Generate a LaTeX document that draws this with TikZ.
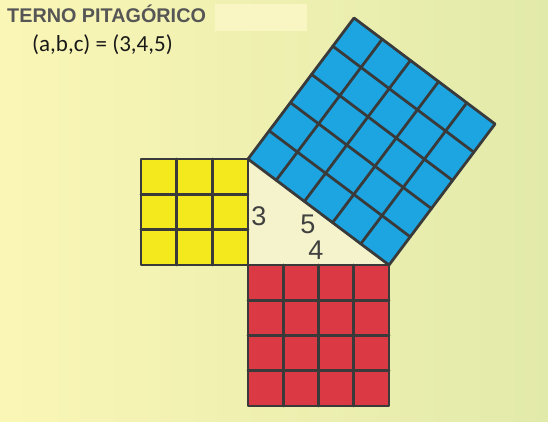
\documentclass[tikz,border=0pt]{standalone}
\usepackage{fontspec}
\setmainfont{Liberation Sans}
\newfontfamily\calibrifont{Carlito}
\usetikzlibrary{calc}
\definecolor{bgleft}{HTML}{FAF6B6}
\definecolor{bgmid}{HTML}{F1F1B0}
\definecolor{bgright}{HTML}{E2EAAA}
\definecolor{highlight}{HTML}{FAF6C4}
\definecolor{trifill}{HTML}{F5F3CC}
\definecolor{sqyellow}{HTML}{F4E91C}
\definecolor{sqred}{HTML}{DB3A44}
\definecolor{sqblue}{HTML}{1CA5E1}
\definecolor{gridgray}{HTML}{3A3A3A}
\definecolor{titlegray}{HTML}{565656}
\definecolor{labelgray}{HTML}{404040}

\begin{document}
\begin{tikzpicture}[x=1pt,y=-1pt,
    cellline/.style={draw=gridgray,line width=2.8pt,line cap=round,line join=round},
    sidelabel/.style={text=labelgray,inner sep=0pt,font=\fontsize{27}{27}\selectfont}]
      \useasboundingbox (0,0) rectangle (548,422);
      \shade[left color=bgleft,middle color=bgmid,right color=bgright] (0,0) rectangle (548,422);
      \fill[highlight] (215,4) rectangle (307,31);

      \node[anchor=base west,inner sep=0pt,text=titlegray,font=\fontsize{19.8}{20}\selectfont\bfseries] (title) at (7,23) {TERNO PITAGÓRICO};
      \node[anchor=base west,inner sep=0pt,text=black!90,font=\calibrifont\fontsize{23}{24}\selectfont] (triple) at (32,52) {(a,b,c) = (3,4,5)};

      % triangle corners and square corners
      \coordinate (P) at (248,159);
      \coordinate (Q) at (248,265);
      \coordinate (R) at (389,265);
      \coordinate (S) at (495,124);
      \coordinate (T) at (354,18);
      \coordinate (Ya) at (141,159);
      \coordinate (Yd) at (141,265);
      \coordinate (Rc) at (389,406);
      \coordinate (Rd) at (248,406);

      \fill[trifill] (P) -- (Q) -- (R) -- cycle;

      % yellow square, side 3
      \fill[sqyellow] (Ya) -- (P) -- (Q) -- (Yd) -- cycle;
      \foreach \i in {1,2} {
        \draw[cellline] ($(Ya)!\i/3!(P)$) -- ($(Yd)!\i/3!(Q)$);
        \draw[cellline] ($(Ya)!\i/3!(Yd)$) -- ($(P)!\i/3!(Q)$);
      }
      \draw[cellline] (Ya) -- (P) -- (Q) -- (Yd) -- cycle;

      % red square, side 4
      \fill[sqred] (Q) -- (R) -- (Rc) -- (Rd) -- cycle;
      \foreach \i in {1,2,3} {
        \draw[cellline] ($(Q)!\i/4!(R)$) -- ($(Rd)!\i/4!(Rc)$);
        \draw[cellline] ($(Q)!\i/4!(Rd)$) -- ($(R)!\i/4!(Rc)$);
      }
      \draw[cellline] (Q) -- (R) -- (Rc) -- (Rd) -- cycle;

      % blue square, side 5
      \fill[sqblue] (P) -- (R) -- (S) -- (T) -- cycle;
      \foreach \i in {1,...,4} {
        \draw[cellline] ($(P)!\i/5!(R)$) -- ($(T)!\i/5!(S)$);
        \draw[cellline] ($(P)!\i/5!(T)$) -- ($(R)!\i/5!(S)$);
      }
      \draw[cellline] (P) -- (R) -- (S) -- (T) -- cycle;

      \node[sidelabel] (leg3) at (259,216) {3};
      \node[sidelabel] (hyp5) at (308,224) {5};
      \node[sidelabel] (leg4) at (316,250) {4};
    \end{tikzpicture}
\end{document}
